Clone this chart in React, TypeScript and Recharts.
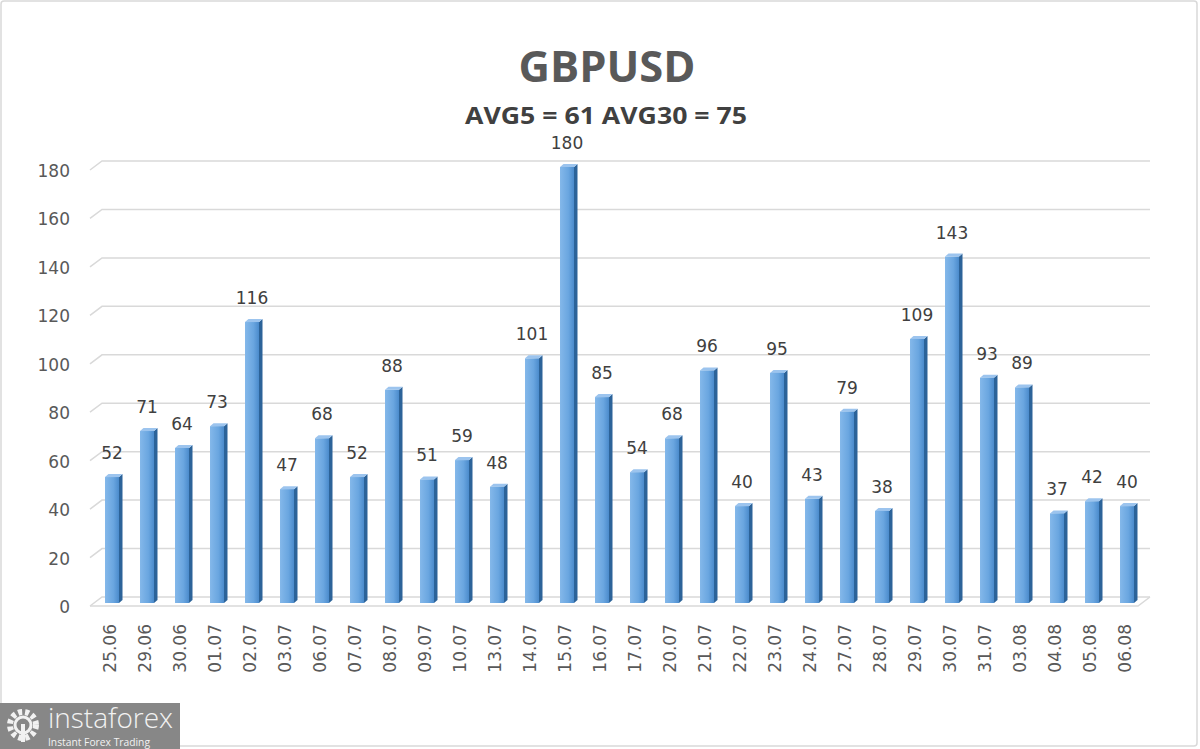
import React from "react";
import { BarChart, Bar, XAxis, YAxis, CartesianGrid, LabelList } from "recharts";

const dates = [
  "25.06", "29.06", "30.06", "01.07", "02.07", "03.07", "06.07", "07.07", "08.07", "09.07",
  "10.07", "13.07", "14.07", "15.07", "16.07", "17.07", "20.07", "21.07", "22.07", "23.07",
  "24.07", "27.07", "28.07", "29.07", "30.07", "31.07", "03.08", "04.08", "05.08", "06.08",
];
const ranges = [
  52, 71, 64, 73, 116, 47, 68, 52, 88, 51,
  59, 48, 101, 180, 85, 54, 68, 96, 40, 95,
  43, 79, 38, 109, 143, 93, 89, 37, 42, 40,
];
const yTicks = [0, 20, 40, 60, 80, 100, 120, 140, 160, 180];

const title = "GBPUSD";
const subtitle = "AVG5 = 61 AVG30 = 75";

const data = dates.map((d, i) => ({ date: d, value: ranges[i] }));

const textColor = "#595959";
const font = "'DejaVu Sans', sans-serif";

// excel style 3d column
const Column = (props: any) => {
  const { x, y, width, height } = props;
  if (height == null || height <= 0) return null;
  const d = 3.5;
  const dy = 3;
  return (
    <g>
      <polygon
        points={`${x + width},${y} ${x + width + d},${y - dy} ${x + width + d},${y + height - dy} ${x + width},${y + height}`}
        fill="#2c6399"
      />
      <polygon
        points={`${x},${y} ${x + d},${y - dy} ${x + width + d},${y - dy} ${x + width},${y}`}
        fill="#9cc4ee"
      />
      <rect x={x} y={y} width={width} height={height} fill="url(#colFront)" />
    </g>
  );
};

const GridLine = (props: any) => {
  const { y1 } = props;
  const back = y1 - 6;
  const front = y1 + 3;
  return (
    <g>
      <path d={`M90,${front} L102,${back} L1150,${back}`} stroke="#d9d9d9" strokeWidth={1.5} fill="none" />
      {Math.abs(y1 - 603) < 1 && (
        <path d={`M90,${front} L1138,${front} L1150,${back}`} stroke="#d9d9d9" strokeWidth={1.5} fill="none" />
      )}
    </g>
  );
};

const YTick = (props: any) => {
  const { y, payload } = props;
  return (
    <text x={70} y={y + 10} textAnchor="end" fontSize={17} fontFamily={font} fill={textColor}>
      {payload.value}
    </text>
  );
};

const XTick = (props: any) => {
  const { x, payload } = props;
  return (
    <text
      transform={`translate(${x + 4},624) rotate(-90)`}
      textAnchor="end"
      fontSize={17}
      fontFamily={font}
      fill={textColor}
    >
      {payload.value}
    </text>
  );
};

const Logo = () => (
  <g>
    <rect x={0} y={703} width={180} height={46} fill="#878787" />
    <circle cx={23} cy={725} r={13} fill="none" stroke="#f2f2f2" strokeWidth={6} strokeDasharray="4 3" />
    <circle cx={23} cy={725} r={8} fill="none" stroke="#f2f2f2" strokeWidth={3} />
    <rect x={21} y={724} width={4} height={18} fill="#f2f2f2" />
    <text x={48} y={728} fontSize={27} textLength={125} lengthAdjust="spacingAndGlyphs" fontFamily="'Open Sans', sans-serif" fontWeight={300} fill="#f2f2f2">
      instaforex
    </text>
    <text x={48} y={746} fontSize={11} textLength={102} lengthAdjust="spacingAndGlyphs" fontFamily="'Open Sans', sans-serif" fill="#f2f2f2">
      Instant Forex Trading
    </text>
  </g>
);

const App = () => (
  <div style={{ position: "absolute", left: 0, top: 0, width: 1200, height: 749, background: "#fff" }}>
    <BarChart
      width={1200}
      height={749}
      data={data}
      margin={{ top: 167, right: 56, bottom: 116, left: 0 }}
      barSize={14}
    >
      <defs>
        <linearGradient id="colFront" x1="0" y1="0" x2="1" y2="0">
          <stop offset="0%" stopColor="#84b8ea" />
          <stop offset="60%" stopColor="#6aa6e0" />
          <stop offset="100%" stopColor="#4b8bcc" />
        </linearGradient>
      </defs>
      <CartesianGrid vertical={false} horizontal={<GridLine />} />
      <XAxis dataKey="date" height={30} interval={0} axisLine={false} tickLine={false} tick={<XTick />} />
      <YAxis
        width={94}
        domain={[0, 180]}
        ticks={yTicks}
        interval={0}
        axisLine={false}
        tickLine={false}
        tick={<YTick />}
      />
      <Bar dataKey="value" shape={<Column />} isAnimationActive={false}>
        <LabelList
          dataKey="value"
          position="top"
          offset={18}
          fontSize={17}
          fontFamily={font}
          fill="#404040"
        />
      </Bar>
    </BarChart>
    <svg width={1200} height={749} style={{ position: "absolute", left: 0, top: 0, pointerEvents: "none" }}>
      <rect x={1} y={1} width={1196} height={745} rx={3} fill="none" stroke="#d9d9d9" strokeWidth={1.5} />
      <text x={607} y={82} textAnchor="middle" fontSize={43} textLength={177} lengthAdjust="spacingAndGlyphs" fontWeight={700} fontFamily="'Open Sans', sans-serif" fill={textColor}>
        {title}
      </text>
      <text x={606} y={124} textAnchor="middle" fontSize={23} textLength={282} lengthAdjust="spacingAndGlyphs" fontWeight={700} fontFamily="'Open Sans', sans-serif" fill="#404040">
        {subtitle}
      </text>
      <Logo />
    </svg>
  </div>
);

export default App;
